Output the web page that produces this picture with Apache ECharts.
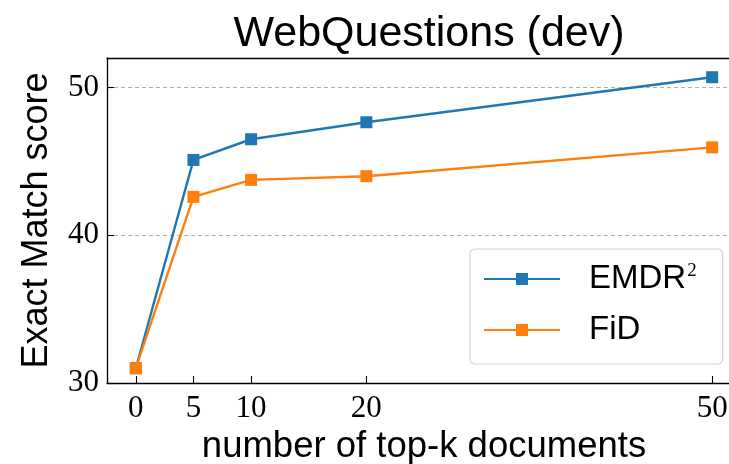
<!DOCTYPE html>
<html>
<head>
<meta charset="utf-8">
<script src="https://cdn.jsdelivr.net/npm/echarts@6/dist/echarts.min.js"></script>
<style>
  html, body { margin: 0; padding: 0; background: #fff; }
  #chart { width: 729px; height: 464px; }
</style>
</head>
<body>
<div id="chart"></div>
<script>
// Number of retrieved documents (top-k)
const topK = [0, 5, 10, 20, 50];
// Exact Match scores on the WebQuestions dev set
const emdrScores = [31.0, 45.1, 46.5, 47.65, 50.7];
const fidScores = [31.0, 42.6, 43.75, 44.0, 45.95];
// Axis ticks
const xTicks = [0, 5, 10, 20, 50];
const yTicks = [30, 40, 50];

const BLUE = '#1f77b4';
const ORANGE = '#ff7f0e';
const SANS = 'Liberation Sans';
const SERIF = 'Liberation Serif';

function pairs(xs, ys) {
  return xs.map((x, i) => [x, ys[i]]);
}

const chart = echarts.init(document.getElementById('chart'), null, { renderer: 'canvas' });

chart.setOption({
  animation: false,
  backgroundColor: '#fff',
  title: {
    text: 'WebQuestions (dev)',
    left: 424,
    top: 8,
    textAlign: 'center',
    textStyle: { fontFamily: SANS, fontSize: 43, fontWeight: 'normal', color: '#000' }
  },
  // the axes box runs past the right edge of the canvas
  grid: { left: 107, top: 58, right: -12, bottom: 81, containLabel: false, outerBoundsMode: 'none' },
  legend: {
    orient: 'vertical',
    left: 470,
    top: 249,
    padding: [13, 26, 17, 13],
    itemGap: 17,
    itemWidth: 76,
    itemHeight: 15,
    backgroundColor: '#fff',
    borderColor: '#d4d4d4',
    borderWidth: 1.2,
    borderRadius: 5,
    formatter: name => name.replace('²', '{s|2}'),
    textStyle: {
      fontFamily: SANS,
      fontSize: 33,
      lineHeight: 34,
      color: '#000',
      padding: [0, 0, 0, 24],
      rich: {
        s: { fontFamily: SERIF, fontSize: 19, verticalAlign: 'top', lineHeight: 34, padding: [0, 0, 12, 1] }
      }
    },
    data: ['EMDR²', 'FiD']
  },
  xAxis: [{
    type: 'value',
    min: -2.5,
    max: 52.5,
    name: 'number of top-k documents',
    nameLocation: 'middle',
    nameGap: 39,
    nameTextStyle: { fontFamily: SANS, fontSize: 36.5, color: '#000' },
    axisLine: { show: true, onZero: false, lineStyle: { color: '#000', width: 1.3 } },
    axisTick: { show: true, inside: true, length: 7, customValues: xTicks, lineStyle: { color: '#000', width: 1.1 } },
    axisLabel: { customValues: xTicks, margin: 10, fontFamily: SERIF, fontSize: 31, color: '#000' },
    splitLine: { show: false }
  }, {
    type: 'value',
    position: 'top',
    min: -2.5,
    max: 52.5,
    axisLine: { show: true, onZero: false, lineStyle: { color: '#000', width: 1.3 } },
    axisTick: { show: false },
    axisLabel: { show: false },
    splitLine: { show: false }
  }],
  yAxis: [{
    type: 'value',
    min: 30,
    max: 52,
    name: 'Exact Match score',
    nameLocation: 'middle',
    nameGap: 52,
    nameTextStyle: { fontFamily: SANS, fontSize: 36, color: '#000' },
    axisLine: { show: true, onZero: false, lineStyle: { color: '#000', width: 1.3 } },
    axisTick: { show: true, inside: true, length: 7, customValues: yTicks, lineStyle: { color: '#000', width: 1.1 } },
    axisLabel: { customValues: yTicks, margin: 8, fontFamily: SERIF, fontSize: 31, color: '#000' },
    splitLine: { show: true, lineStyle: { color: '#b0b0b0', type: [4, 3], width: 1 } }
  }],
  series: [{
    name: 'EMDR²',
    type: 'line',
    data: pairs(topK, emdrScores),
    symbol: 'rect',
    symbolSize: 12,
    color: BLUE,
    lineStyle: { width: 2.4, color: BLUE },
    itemStyle: { color: BLUE },
    z: 3
  }, {
    name: 'FiD',
    type: 'line',
    data: pairs(topK, fidScores),
    symbol: 'rect',
    symbolSize: 12,
    color: ORANGE,
    lineStyle: { width: 2.4, color: ORANGE },
    itemStyle: { color: ORANGE },
    z: 4
  }]
});
</script>
</body>
</html>
